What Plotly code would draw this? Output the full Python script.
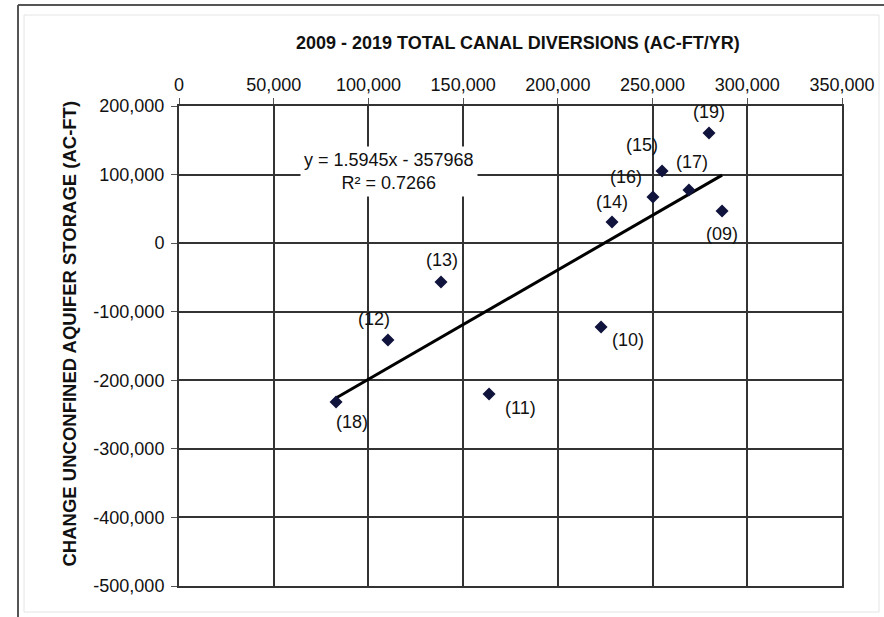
import plotly.graph_objs as go

# Canal diversions (ac-ft/yr) vs change in unconfined aquifer storage (ac-ft), by year
years = ["(09)", "(10)", "(11)", "(12)", "(13)", "(14)", "(15)", "(16)", "(17)", "(18)", "(19)"]
diversions = [286700, 222800, 163700, 110300, 138300, 228600, 255000, 250200, 269200, 82900, 279800]
storage_change = [46900, -122300, -220000, -141200, -56700, 30800, 105200, 67300, 77500, -231700, 160600]

# linear trendline as printed on the chart
slope = 1.5945
intercept = -357968
r_squared = 0.7266

x_ticks = [0, 50000, 100000, 150000, 200000, 250000, 300000, 350000]
y_ticks = [200000, 100000, 0, -100000, -200000, -300000, -400000, -500000]

# pixel offsets of the year labels from their points (dx right, dy down)
label_offsets = [(0, 23), (27, 13), (31, 14), (-14, -21), (1, -22), (0, -20),
                 (-20, -26), (-27, -20), (3, -28), (16, 20), (0, -21)]

W, H = 884, 617
L, R, T, B = 179, 842, 106, 586


def px(x):
    return (x - L) / (R - L)


def py(y):
    return (B - y) / (B - T)


FONT = "Liberation Sans, Arial, sans-serif"

fig = go.Figure()

x_fit = [min(diversions), max(diversions)]
y_fit = [slope * v + intercept for v in x_fit]
fig.add_trace(go.Scatter(x=x_fit, y=y_fit, mode="lines",
                         line=dict(color="#000000", width=3), hoverinfo="skip"))

fig.add_trace(go.Scatter(x=diversions, y=storage_change, mode="markers",
                         marker=dict(symbol="diamond", size=10, color="#10143c"),
                         text=years))

annotations = []
for xv, yv, label, (dx, dy) in zip(diversions, storage_change, years, label_offsets):
    annotations.append(dict(x=xv, y=yv, text=label, showarrow=False,
                            xshift=dx, yshift=-dy,
                            font=dict(family=FONT, size=18, color="#111111")))

annotations.append(dict(
    x=110900, y=103800,
    text="y = %.4fx - %d<br>R\u00b2 = %.4f" % (slope, -intercept, r_squared),
    showarrow=False, bgcolor="white", borderpad=3,
    font=dict(family=FONT, size=18, color="#111111")))

annotations.append(dict(
    x=px(518), y=py(43), xref="paper", yref="paper", yanchor="middle",
    text="<b>2009 - 2019 TOTAL CANAL DIVERSIONS (AC-FT/YR)</b>",
    showarrow=False, font=dict(family=FONT, size=18, color="#111111")))

annotations.append(dict(
    x=px(56), y=py(334), xref="paper", yref="paper", textangle=-90,
    text="<b>CHANGE UNCONFINED AQUIFER STORAGE (AC-FT)</b>",
    showarrow=False, font=dict(family=FONT, size=18.5, color="#111111")))

shapes = [
    dict(type="rect", xref="paper", yref="paper",
         x0=px(24), y0=py(612), x1=px(879), y1=py(15),
         line=dict(color="#e4e4e4", width=1)),
    dict(type="line", xref="paper", yref="paper",
         x0=px(18), y0=py(5), x1=px(890), y1=py(5),
         line=dict(color="#555555", width=2)),
    dict(type="line", xref="paper", yref="paper",
         x0=px(18), y0=py(5), x1=px(18), y1=py(625),
         line=dict(color="#555555", width=2)),
]

fig.update_layout(
    width=W, height=H,
    margin=dict(l=L, r=W - R, t=T, b=H - B, autoexpand=False),
    paper_bgcolor="white", plot_bgcolor="white",
    showlegend=False,
    font=dict(family=FONT, size=18, color="#111111"),
    annotations=annotations,
    shapes=shapes,
)

fig.update_xaxes(
    side="top", range=[0, 350000],
    tickvals=x_ticks, ticktext=[f"{v:,}" for v in x_ticks],
    showgrid=True, gridcolor="#333333", gridwidth=1.6,
    showline=True, linecolor="#333333", linewidth=2, mirror=True,
    ticks="outside", ticklen=6, tickcolor="#555555", zeroline=False,
    tickfont=dict(family=FONT, size=18, color="#111111"),
)
fig.update_yaxes(
    range=[-500000, 200000],
    tickvals=y_ticks, ticktext=[f"{v:,}" for v in y_ticks],
    showgrid=True, gridcolor="#333333", gridwidth=1.6,
    showline=True, linecolor="#333333", linewidth=2, mirror=True,
    ticks="outside", ticklen=6, tickcolor="#555555", zeroline=False,
    ticklabelstandoff=3,
    tickfont=dict(family=FONT, size=18, color="#111111"),
)

# page margin off so the 884x617 figure fills the window exactly
fig.write_html("out.html", config={"displayModeBar": False},
               post_script="document.body.style.margin='0';document.body.style.overflow='hidden';")
